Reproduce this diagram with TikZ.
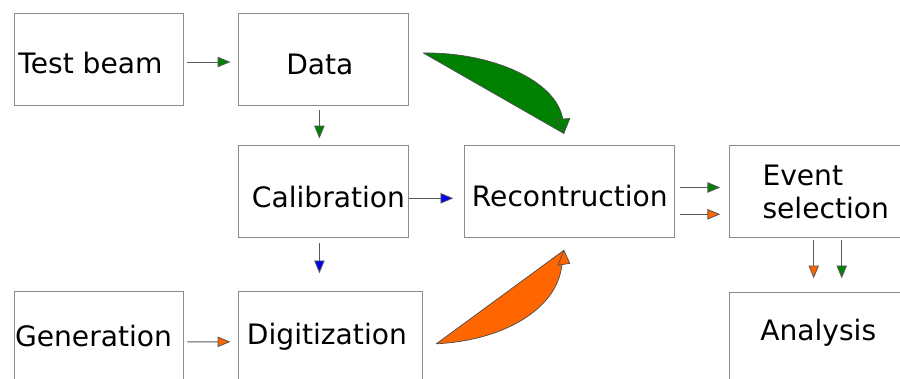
\documentclass[tikz,border=0pt]{standalone}
\usepackage{fontspec}
\setmainfont{DejaVu Sans}
\usetikzlibrary{arrows.meta,positioning,calc}
\definecolor{flowgreen}{RGB}{0,128,0}
\definecolor{flowblue}{RGB}{0,0,240}
\definecolor{floworange}{RGB}{255,102,0}

\begin{document}
\begin{tikzpicture}[x=0.025cm, y=-0.025cm,
    stage/.style={rectangle, draw=gray!90, line width=0.6pt, minimum width=4.225cm, minimum height=2.3cm, inner sep=0pt, align=center, font=\fontsize{20}{23}\selectfont},
    drop/.style={text height=#1, text depth=0pt},
    flow/.style={draw=black!65, line width=0.6pt, -{Triangle[length=0.32cm, width=0.26cm, fill=#1]}},
    bigflow/.style={fill=#1, draw=black!70, line width=0.5pt, line join=round}]

    \clip (0,0) rectangle (900,378);
    \useasboundingbox (0,0) rectangle (900,378);

    % Top row
    \node[stage, drop=0.7cm] (beam) at (98.5,59) {Test beam\hspace{0.4cm}};
    \node[stage, drop=0.75cm, right=1.375cm of beam] (data) {Data\hspace{0.175cm}};

    % Middle row
    \node[stage, drop=0.775cm, below=1cm of data] (calib) {\hspace{0.25cm}Calibration};
    \node[stage, drop=0.725cm, right=1.4cm of calib, minimum width=5.25cm] (recon) {Recontruction};
    \node[stage, right=1.35cm of recon, minimum width=4.8cm, align=left] (event) {Event\\selection\hspace{0.25cm}};

    % Bottom row
    \node[stage, drop=0.45cm, below=4.65cm of beam] (gen) {Generation\hspace{0.25cm}};
    \node[stage, drop=0.35cm, minimum width=4.575cm, anchor=north west] (digit) at ([yshift=-1.325cm]calib.south west) {Digitization\hspace{0.175cm}};
    \node[stage, drop=0.1cm, below=1.35cm of event, minimum width=4.8cm] (analysis) {Analysis\hspace{0.375cm}};

    % Small arrows
    \draw[flow=flowgreen, shorten <=0.1cm, shorten >=0.2cm] ([yshift=-0.075cm]beam.east) -- ([yshift=-0.075cm]data.west);
    \draw[flow=flowgreen, shorten <=0.125cm, shorten >=0.175cm] ([xshift=-0.1cm]data.south) -- ([xshift=-0.1cm]calib.north);
    \draw[flow=flowblue, shorten <=0.025cm, shorten >=0.275cm] ([yshift=-0.16cm]calib.east) -- ([yshift=-0.16cm]recon.west);
    \draw[flow=flowblue, shorten <=0.125cm, shorten >=0.45cm] ([xshift=-0.1cm]calib.south) -- ([xshift=-0.1cm]calib.south |- digit.north);
    \draw[flow=floworange, shorten <=0.1cm, shorten >=0.2cm] ([yshift=-0.1cm]gen.east) -- ([yshift=-0.1cm]digit.west);
    \draw[flow=flowgreen, shorten <=0.125cm, shorten >=0.225cm] ([yshift=0.11cm]recon.east) -- ([yshift=0.11cm]recon.east -| event.west);
    \draw[flow=floworange, shorten <=0.125cm, shorten >=0.225cm] ([yshift=-0.56cm]recon.east) -- ([yshift=-0.56cm]recon.east -| event.west);
    \draw[flow=floworange, shorten <=0.05cm, shorten >=0.35cm] ([xshift=-0.3cm]event.south) -- ([xshift=-0.3cm]analysis.north);
    \draw[flow=flowgreen, shorten <=0.05cm, shorten >=0.35cm] ([xshift=0.4cm]event.south) -- ([xshift=0.4cm]analysis.north);

    % Big curved arrows into reconstruction
    \coordinate (gstart) at ($(data.east)+(15,-6)$);
    \coordinate (gtip) at ($(recon.north)+(-6,-12)$);
    \filldraw[bigflow=flowgreen] (gstart) .. controls +(68,-1) and +(-6,-39) .. ($(gtip)+(-1,-14)$) -- (gtip) -- cycle;
    \filldraw[bigflow=flowgreen] ($(gtip)+(-7,-14)$) -- ($(gtip)+(6,-15)$) -- (gtip) -- cycle;

    \coordinate (ostart) at ($(digit.east)+(14,6)$);
    \coordinate (otip) at ($(recon.south)+(-6,12)$);
    \filldraw[bigflow=floworange] (ostart) .. controls +(65,-3) and +(-5,45) .. ($(otip)+(-2,15)$) -- (otip) -- cycle;
    \filldraw[bigflow=floworange] ($(otip)+(-6,15)$) -- ($(otip)+(6,13)$) -- (otip) -- cycle;

\end{tikzpicture}
\end{document}
